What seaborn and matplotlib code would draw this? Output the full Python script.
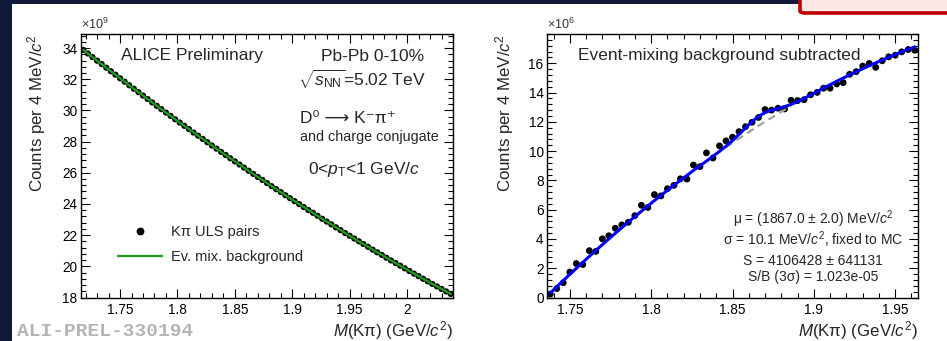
import numpy as np
import pandas as pd
import matplotlib
matplotlib.use("Agg")
import matplotlib.pyplot as plt
from matplotlib.patches import Rectangle, FancyBboxPatch
from matplotlib.lines import Line2D
from matplotlib.ticker import MultipleLocator, FixedLocator
import seaborn as sns

# ---------------------------------------------------------------- binning
BIN_WIDTH = 0.004                 # GeV/c^2 (4 MeV bins)
left_range = (1.716, 2.040)       # invariant-mass window, left panel
right_range = (1.736, 1.964)      # invariant-mass window, right panel

# ---------------------------------------------------------------- left panel: ULS pairs and mixed-event background (x 1e9)
uls_counts = [
    33.88, 33.65, 33.42, 33.19, 32.97, 32.74, 32.51, 32.29, 32.06, 31.84,
    31.61, 31.39, 31.17, 30.95, 30.73, 30.51, 30.29, 30.08, 29.86, 29.65,
    29.43, 29.22, 29.01, 28.80, 28.58, 28.38, 28.17, 27.96, 27.75, 27.55,
    27.34, 27.14, 26.93, 26.73, 26.53, 26.33, 26.13, 25.93, 25.73, 25.54,
    25.34, 25.14, 24.95, 24.76, 24.56, 24.37, 24.18, 23.99, 23.80, 23.61,
    23.43, 23.24, 23.05, 22.87, 22.69, 22.50, 22.32, 22.14, 21.96, 21.78,
    21.60, 21.43, 21.25, 21.07, 20.90, 20.73, 20.55, 20.38, 20.21, 20.04,
    19.87, 19.70, 19.53, 19.37, 19.20, 19.04, 18.87, 18.71, 18.55, 18.39,
    18.23,
]
# normalised mixed-event background lies on top of the ULS distribution
mix_background = list(uls_counts)

# ---------------------------------------------------------------- right panel: background-subtracted distribution (x 1e6)
sub_counts = [
    0.23, 0.61, 1.01, 1.74, 2.32, 2.25, 3.20, 3.15, 4.01, 4.22,
    4.73, 4.96, 5.14, 5.59, 6.30, 6.15, 7.03, 6.94, 7.43, 7.66,
    8.11, 8.09, 9.05, 8.94, 9.88, 9.53, 10.36, 10.70, 10.95, 11.33,
    11.67, 11.97, 12.30, 12.84, 12.80, 12.93, 12.88, 13.47, 13.45, 13.51,
    13.85, 14.01, 14.30, 14.30, 14.59, 14.68, 15.25, 15.43, 15.81, 15.99,
    15.72, 16.17, 16.44, 16.55, 16.78, 16.94, 16.89,
]
fit_total = [
    0.30, 0.73, 1.16, 1.58, 1.99, 2.40, 2.81, 3.21, 3.61, 4.00,
    4.39, 4.77, 5.15, 5.53, 5.89, 6.26, 6.62, 6.97, 7.32, 7.67,
    8.01, 8.34, 8.68, 9.00, 9.32, 9.65, 9.98, 10.34, 10.72, 11.14,
    11.59, 12.01, 12.38, 12.63, 12.79, 12.91, 13.04, 13.19, 13.38, 13.60,
    13.84, 14.07, 14.31, 14.54, 14.77, 14.99, 15.21, 15.42, 15.63, 15.83,
    16.03, 16.22, 16.41, 16.60, 16.78, 16.95, 17.12,
]
fit_background = [
    0.30, 0.73, 1.16, 1.58, 1.99, 2.40, 2.81, 3.21, 3.61, 4.00,
    4.39, 4.77, 5.15, 5.53, 5.89, 6.26, 6.62, 6.97, 7.32, 7.67,
    8.01, 8.34, 8.68, 9.00, 9.32, 9.64, 9.95, 10.26, 10.56, 10.86,
    11.15, 11.44, 11.73, 12.01, 12.28, 12.55, 12.82, 13.08, 13.33, 13.58,
    13.83, 14.07, 14.31, 14.54, 14.77, 14.99, 15.21, 15.42, 15.63, 15.83,
    16.03, 16.22, 16.41, 16.60, 16.78, 16.95, 17.12,
]
peak_window = (1.845, 1.887)      # where the background-only curve is drawn

# ---------------------------------------------------------------- ticks
left_xticks = [1.75, 1.80, 1.85, 1.90, 1.95, 2.00]
left_xticklabels = ["1.75", "1.8", "1.85", "1.9", "1.95", "2"]
left_yticks = [18, 20, 22, 24, 26, 28, 30, 32, 34]
left_ylim = (18.0, 34.9)
right_xticks = [1.75, 1.80, 1.85, 1.90, 1.95]
right_xticklabels = ["1.75", "1.8", "1.85", "1.9", "1.95"]
right_yticks = [0, 2, 4, 6, 8, 10, 12, 14, 16]
right_ylim = (0.0, 18.0)


def bin_centers(lo, n):
    return np.round(lo + BIN_WIDTH * (np.arange(n) + 0.5), 4)


df_left = pd.DataFrame({
    "mass": bin_centers(left_range[0], len(uls_counts)),
    "uls": uls_counts,
    "bkg": mix_background,
})
df_right = pd.DataFrame({
    "mass": bin_centers(right_range[0], len(sub_counts)),
    "counts": sub_counts,
    "fit": fit_total,
    "bkg": fit_background,
})
df_peak = df_right[(df_right["mass"] >= peak_window[0]) & (df_right["mass"] <= peak_window[1])]

# ---------------------------------------------------------------- style
sns.set_theme(style="ticks")
plt.rcParams["font.family"] = ["Liberation Sans", "DejaVu Sans"]
plt.rcParams["mathtext.fontset"] = "custom"
plt.rcParams["mathtext.rm"] = "Liberation Sans"
plt.rcParams["mathtext.it"] = "Liberation Sans:italic"
plt.rcParams["mathtext.bf"] = "Liberation Sans:bold"
plt.rcParams["axes.linewidth"] = 1.0

W, H = 947, 341
NAVY = "#0f1a38"
fig = plt.figure(figsize=(W / 100, H / 100), dpi=100, facecolor=NAVY)

# slide canvas and the corner badge, kept behind the axes
fig.patches.append(Rectangle((12 / W, 0), 1.0, 1 - 4 / H, transform=fig.transFigure,
                             facecolor="white", edgecolor="none", zorder=-10))
fig.patches.append(FancyBboxPatch((800 / W, 1 - 13 / H), 0.3, 0.2, transform=fig.transFigure,
                                  boxstyle="round,pad=0,rounding_size=0.006",
                                  facecolor="#fde8e8", edgecolor="#c00000",
                                  linewidth=2.6, zorder=-9))


def px_axes(x0, x1, y_top, y_bot):
    return fig.add_axes([x0 / W, 1 - y_bot / H, (x1 - x0) / W, (y_bot - y_top) / H])


axL = px_axes(81, 453, 34, 297.5)
axR = px_axes(547, 918, 34, 297.5)

LABEL_FS = 12.5
AXIS_FS = 12.2
TICK_FS = 9.8

for ax in (axL, axR):
    ax.set_facecolor("white")
    ax.tick_params(which="both", direction="in", top=True, right=True,
                   labeltop=False, labelright=False, colors="black")
    ax.tick_params(which="major", length=6.5, width=0.8, labelsize=TICK_FS)
    ax.tick_params(axis="x", which="major", pad=4)
    ax.tick_params(axis="y", which="major", pad=2.5)
    ax.tick_params(which="minor", length=3.3, width=0.8)
    for sp in ax.spines.values():
        sp.set_color("black")
        sp.set_linewidth(1.0)

# ---------------------------------------------------------------- left panel
sns.scatterplot(data=df_left, x="mass", y="uls", ax=axL, color="black", s=20,
                edgecolor="none", zorder=3, legend=False)
sns.lineplot(data=df_left, x="mass", y="bkg", ax=axL, color="#1e9a1e", lw=1.7,
             zorder=4, legend=False)
axL.set_xlim(*left_range)
axL.set_ylim(*left_ylim)
axL.xaxis.set_major_locator(FixedLocator(left_xticks))
axL.set_xticklabels(left_xticklabels)
axL.xaxis.set_minor_locator(MultipleLocator(0.01))
axL.yaxis.set_major_locator(FixedLocator(left_yticks))
axL.set_yticklabels([str(v) for v in left_yticks])
axL.yaxis.set_minor_locator(MultipleLocator(0.4))

axL.set_xlabel(r"$M$(Kπ) (GeV/$c^{2}$)", loc="right", fontsize=AXIS_FS)
axL.xaxis.set_label_coords(1.0, -0.082)
axL.set_ylabel(r"Counts per 4 MeV/$c^{2}$", loc="top", fontsize=AXIS_FS)
axL.yaxis.set_label_coords(-0.088, 1.0)
axL.text(0.0, 1.008, r"$\times$10$^{9}$", transform=axL.transAxes, fontsize=9,
         ha="left", va="bottom", color="#333333")

axL.text(0.1075, 0.920, "ALICE Preliminary", transform=axL.transAxes,
         fontsize=LABEL_FS, ha="left", va="center")
axL.text(0.922, 0.913, "Pb-Pb 0-10%", transform=axL.transAxes,
         fontsize=LABEL_FS, ha="right", va="center")
axL.text(0.927, 0.829, r"$\sqrt{s_{\rm NN}}$=5.02 TeV", transform=axL.transAxes,
         fontsize=LABEL_FS, ha="right", va="center")
axL.text(0.589, 0.681, "D⁰ ⟶ K⁻π⁺", transform=axL.transAxes,
         fontsize=LABEL_FS, ha="left", va="center",
         family=["Liberation Sans", "DejaVu Sans"])
axL.text(0.589, 0.609, "and charge conjugate", transform=axL.transAxes,
         fontsize=10.4, ha="left", va="center")
axL.text(0.610, 0.484, r"0<$p_{\rm T}$<1 GeV/$c$", transform=axL.transAxes,
         fontsize=LABEL_FS, ha="left", va="center")

handles = [
    Line2D([], [], color="black", marker="o", markersize=4.6, linestyle="none"),
    Line2D([], [], color="#1e9a1e", lw=1.7),
]
axL.legend(handles, ["Kπ ULS pairs", "Ev. mix. background"], loc="upper left",
           bbox_to_anchor=(0.1, 0.276), frameon=False, fontsize=10.5,
           handlelength=3.0, handletextpad=0.6, labelspacing=0.75,
           borderpad=0, borderaxespad=0)

# ---------------------------------------------------------------- right panel
sns.scatterplot(data=df_right, x="mass", y="counts", ax=axR, color="black", s=24,
                edgecolor="none", zorder=3, legend=False)
sns.lineplot(data=df_peak, x="mass", y="bkg", ax=axR, color="#a0a0a0", lw=1.6,
             linestyle=(0, (3.5, 2.2)), zorder=3.5, legend=False)
sns.lineplot(data=df_right, x="mass", y="fit", ax=axR, color="#0000ff", lw=2.2,
             zorder=4, legend=False)
axR.set_xlim(*right_range)
axR.set_ylim(*right_ylim)
axR.xaxis.set_major_locator(FixedLocator(right_xticks))
axR.set_xticklabels(right_xticklabels)
axR.xaxis.set_minor_locator(MultipleLocator(0.01))
axR.yaxis.set_major_locator(FixedLocator(right_yticks))
axR.set_yticklabels([str(v) for v in right_yticks])
axR.yaxis.set_minor_locator(MultipleLocator(0.4))

axR.set_xlabel(r"$M$(Kπ) (GeV/$c^{2}$)", loc="right", fontsize=AXIS_FS)
axR.xaxis.set_label_coords(1.0, -0.082)
axR.set_ylabel(r"Counts per 4 MeV/$c^{2}$", loc="top", fontsize=AXIS_FS)
axR.yaxis.set_label_coords(-0.083, 1.0)
axR.text(0.0, 1.008, r"$\times$10$^{6}$", transform=axR.transAxes, fontsize=9,
         ha="left", va="bottom", color="#333333")

axR.text(0.0836, 0.920, "Event-mixing background subtracted", transform=axR.transAxes,
         fontsize=LABEL_FS, ha="left", va="center")
STAT_FS = 10.0
axR.text(0.717, 0.297, r"μ = (1867.0 ± 2.0) MeV/$c^{2}$", transform=axR.transAxes,
         fontsize=STAT_FS, ha="center", va="center")
axR.text(0.717, 0.220, r"σ = 10.1 MeV/$c^{2}$, fixed to MC", transform=axR.transAxes,
         fontsize=STAT_FS, ha="center", va="center")
axR.text(0.717, 0.1385, "S = 4106428 ± 641131", transform=axR.transAxes,
         fontsize=STAT_FS, ha="center", va="center")
axR.text(0.717, 0.0778, "S/B (3σ) = 1.023e-05", transform=axR.transAxes,
         fontsize=STAT_FS, ha="center", va="center")

# preliminary figure tag
fig.text(17 / W, 1 - 331.5 / H, "ALI-PREL-330194", fontsize=14, family="Liberation Mono",
         weight="bold", color="#b4b4b4", ha="left", va="center")

fig.savefig("out.png", dpi=100, facecolor=NAVY)
